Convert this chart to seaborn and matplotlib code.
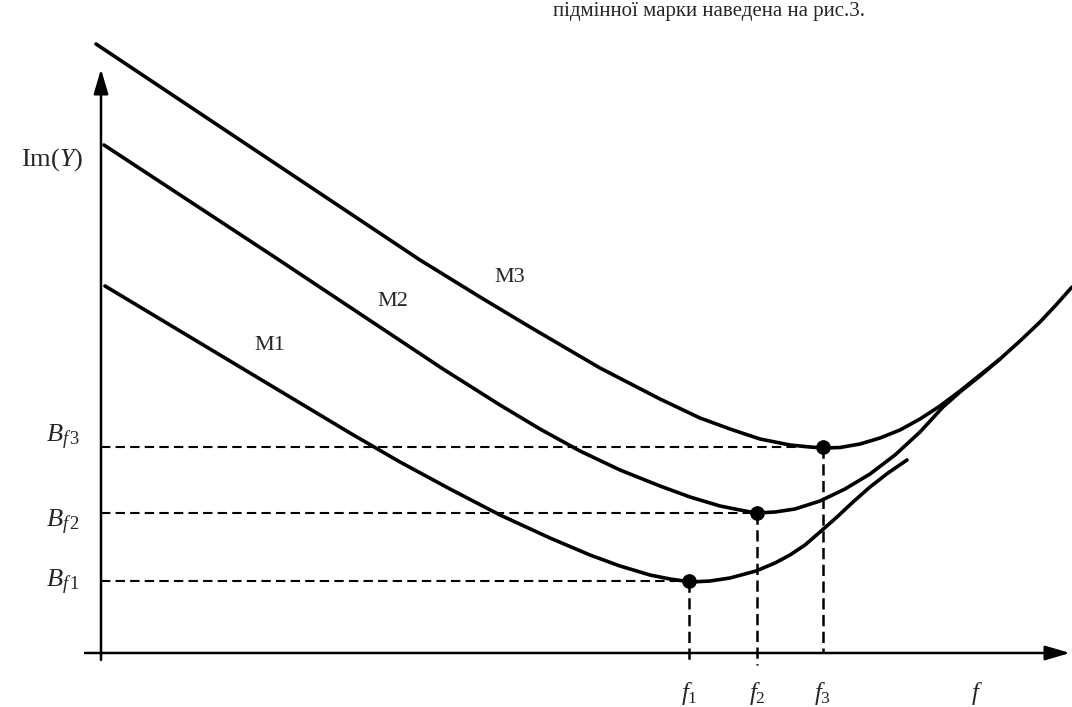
import matplotlib
matplotlib.use("Agg")
import matplotlib.pyplot as plt
import pandas as pd
import seaborn as sns

sns.set_theme(style="white")
plt.rcParams["font.family"] = ["Liberation Serif", "DejaVu Serif"]
plt.rcParams["mathtext.fontset"] = "custom"
plt.rcParams["mathtext.rm"] = "Liberation Serif"
plt.rcParams["mathtext.it"] = "Liberation Serif:italic"
plt.rcParams["mathtext.bf"] = "Liberation Serif:bold"

# Im(Y) versus frequency for three grades (arbitrary units)
m1_f = [0.04, 1.29, 2.49, 2.99, 3.49, 3.99, 4.49, 4.89, 5.19, 5.49, 5.69, 5.90, 6.09, 6.29,
        6.55, 6.74, 6.89, 7.04, 7.19, 7.36, 7.52, 7.69, 7.87, 8.06]
m1_im = [3.67, 2.92, 2.20, 1.91, 1.64, 1.38, 1.15, 0.98, 0.87, 0.78, 0.74, 0.71, 0.72, 0.75,
         0.82, 0.90, 0.98, 1.08, 1.21, 1.36, 1.51, 1.66, 1.80, 1.93]

m2_f = [0.03, 1.72, 3.42, 3.99, 4.39, 4.79, 5.19, 5.59, 5.89, 6.19, 6.39, 6.55, 6.74, 6.94,
        7.19, 7.44, 7.69, 7.94, 8.19, 8.42, 8.59, 8.79, 8.99]
m2_im = [5.08, 3.97, 2.84, 2.48, 2.24, 2.02, 1.83, 1.67, 1.56, 1.47, 1.43, 1.40, 1.41, 1.44,
         1.52, 1.64, 1.79, 1.98, 2.21, 2.46, 2.61, 2.77, 2.94]

m3_f = [-0.05, 3.19, 3.79, 4.29, 4.99, 5.59, 5.99, 6.29, 6.59, 6.89, 7.09, 7.23, 7.39, 7.59,
        7.79, 7.99, 8.19, 8.39, 8.59, 8.79, 8.99, 9.19, 9.39, 9.55, 9.71]
m3_im = [6.09, 3.93, 3.56, 3.26, 2.85, 2.54, 2.35, 2.24, 2.14, 2.08, 2.06, 2.05, 2.055, 2.09,
         2.15, 2.23, 2.34, 2.47, 2.62, 2.78, 2.94, 3.12, 3.31, 3.48, 3.66]

curve_names = ["M1", "M2", "M3"]
curve_label_pos = [(1.69, 3.08), (2.92, 3.51), (4.09, 3.75)]

# Resonance points
f_marks = [5.88, 6.56, 7.22]
b_marks = [0.72, 1.40, 2.06]
f_labels = [r"$f_1$", r"$f_2$", r"$f_3$"]
b_labels = [r"$B_{f\,1}$", r"$B_{f\,2}$", r"$B_{f\,3}$"]
b_label_y = [0.66, 1.26, 2.11]
v_line_ends = [-0.09, -0.12, 0.0]

axis_x_name = r"$f$"
axis_y_name = r"$\mathrm{Im}(Y)$"
caption = "підмінної марки наведена на рис.3."

frames = []
for name, fx, fy in [("M1", m1_f, m1_im), ("M2", m2_f, m2_im), ("M3", m3_f, m3_im)]:
    frames.append(pd.DataFrame({"f": fx, "im": fy, "grade": name}))
curves = pd.concat(frames, ignore_index=True)

fig = plt.figure(figsize=(10.72, 7.07), dpi=100)
ax = fig.add_axes([0, 0, 1, 1])
ax.set_xlim(-1.01, 9.71)
ax.set_ylim(-0.54, 6.53)
ax.axis("off")

# coordinate axes with arrow heads
arrow = dict(arrowstyle="-|>,head_length=0.75,head_width=0.22", lw=1.8, color="black",
             shrinkA=0, shrinkB=0, mutation_scale=20)
ax.annotate("", xy=(9.69, 0.0), xytext=(-0.16, 0.0), arrowprops=arrow)
ax.annotate("", xy=(0.0, 5.84), xytext=(0.0, -0.07), arrowprops=arrow)

# dashed guides
for fm, bm, ve in zip(f_marks, b_marks, v_line_ends):
    ax.plot([0.0, fm], [bm, bm], color="black", lw=1.5, dashes=(4.5, 2.5))
    ax.plot([fm, fm], [bm, ve], color="black", lw=1.8, dashes=(4.5, 2.2))

sns.lineplot(data=curves, x="f", y="im", units="grade", estimator=None, sort=False,
             color="black", lw=2.6, ax=ax, legend=False)
for line in ax.get_lines():
    line.set_solid_joinstyle("round")
    line.set_solid_capstyle("round")

sns.scatterplot(x=f_marks, y=b_marks, s=95, color="black", edgecolor="black", ax=ax, zorder=5)

for name, (lx, ly) in zip(curve_names, curve_label_pos):
    ax.text(lx, ly, name, fontsize=16, ha="center", va="center")

for fm, lab in zip(f_marks, f_labels):
    ax.text(fm, -0.47, lab, fontsize=18, ha="center", va="baseline")
ax.text(8.76, -0.47, axis_x_name, fontsize=18, ha="center", va="baseline")

for by, lab in zip(b_label_y, b_labels):
    ax.text(-0.21, by, lab, fontsize=19, ha="right", va="baseline")

ax.text(-0.49, 4.93, axis_y_name, fontsize=19, ha="center", va="center")

fig.text(553 / 1072, 1 - 16 / 707, caption, fontsize=15, ha="left", va="baseline")

fig.savefig("out.png", dpi=100)
